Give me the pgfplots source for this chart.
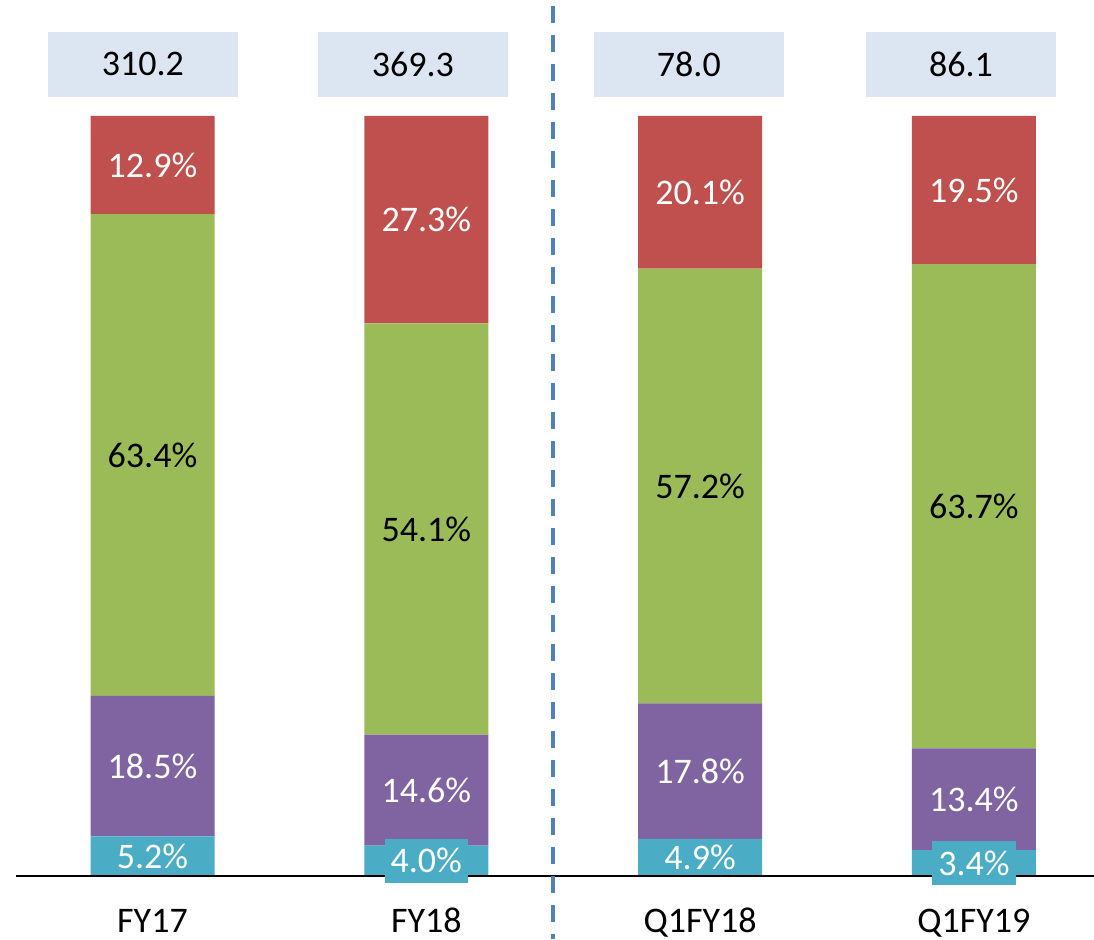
\documentclass[border=0pt]{standalone}
\usepackage{pgfplots}
\pgfplotsset{compat=1.18}
\usepackage{fontspec}
\setmainfont{Carlito}
\definecolor{cRed}{HTML}{C0504D}
\definecolor{cGreen}{HTML}{9BBB59}
\definecolor{cPurple}{HTML}{8064A2}
\definecolor{cTeal}{HTML}{4BACC6}
\definecolor{cBox}{HTML}{DCE6F2}
\definecolor{cDash}{HTML}{4F81BD}
\newcommand{\lblfont}{\fontsize{36}{43}\selectfont}
\begin{document}
\begin{tikzpicture}
\pgfplotsset{base/.style={scale only axis, width=1094pt, height=939pt,
  xmin=-0.557, xmax=3.4386, ymin=-8.29, ymax=115.26,
  hide axis, clip=false, at={(0,0)}, anchor=south west}}
\begin{axis}[base, ybar stacked, bar width=124pt]
\addplot[fill=cTeal, draw=none] coordinates {(0,5.2) (1,4.0) (2,4.9) (3,3.4)};
\addplot[fill=cPurple, draw=none] coordinates {(0,18.5) (1,14.6) (2,17.8) (3,13.4)};
\addplot[fill=cGreen, draw=none] coordinates {(0,63.4) (1,54.1) (2,57.2) (3,63.7)};
\addplot[fill=cRed, draw=none] coordinates {(0,12.9) (1,27.3) (2,20.1) (3,19.5)};
\end{axis}
\begin{axis}[base,
  lbl/.style={draw=none, mark=none, nodes near coords, point meta=explicit symbolic,
    nodes near coords style={anchor=center, font=\lblfont, #1}}]
% axis line
\addplot[black, line width=1.5pt] coordinates {(-0.4985,0) (3.4386,0)};
% dashed divider
\addplot[cDash, line width=4pt, dash pattern=on 17pt off 12pt, dash phase=23pt]
  coordinates {(1.4628,115.26) (1.4628,-8.29)};
% segment labels
\addplot[lbl={text=white}] coordinates {(0,2.6) [5.2\%] (2,2.45) [4.9\%]};
\addplot[lbl={text=white, fill=cTeal, inner xsep=6pt, minimum height=44pt}]
  coordinates {(1,2.0) [4.0\%] (3,1.7) [3.4\%]};
\addplot[lbl={text=white}] coordinates {(0,14.45) [18.5\%] (1,11.3) [14.6\%] (2,13.8) [17.8\%] (3,10.1) [13.4\%]};
\addplot[lbl={text=black}] coordinates {(0,55.4) [63.4\%] (1,45.65) [54.1\%] (2,51.3) [57.2\%] (3,48.65) [63.7\%]};
\addplot[lbl={text=white}] coordinates {(0,93.55) [12.9\%] (1,86.35) [27.3\%] (2,89.95) [20.1\%] (3,90.25) [19.5\%]};
% totals
\addplot[lbl={text=black, fill=cBox, minimum width=190pt, minimum height=65pt}]
  coordinates {(-0.035,106.78) [310.2] (0.951,106.78) [369.3] (1.959,106.78) [78.0] (2.953,106.78) [86.1]};
% category labels
\addplot[lbl={text=black, anchor=base}]
  coordinates {(0,-7.37) [FY17] (1,-7.37) [FY18] (2,-7.37) [Q1FY18] (3,-7.37) [Q1FY19]};
\end{axis}
\pgfresetboundingbox
\path (0,0) rectangle (1094pt,939pt);
\end{tikzpicture}
\end{document}
